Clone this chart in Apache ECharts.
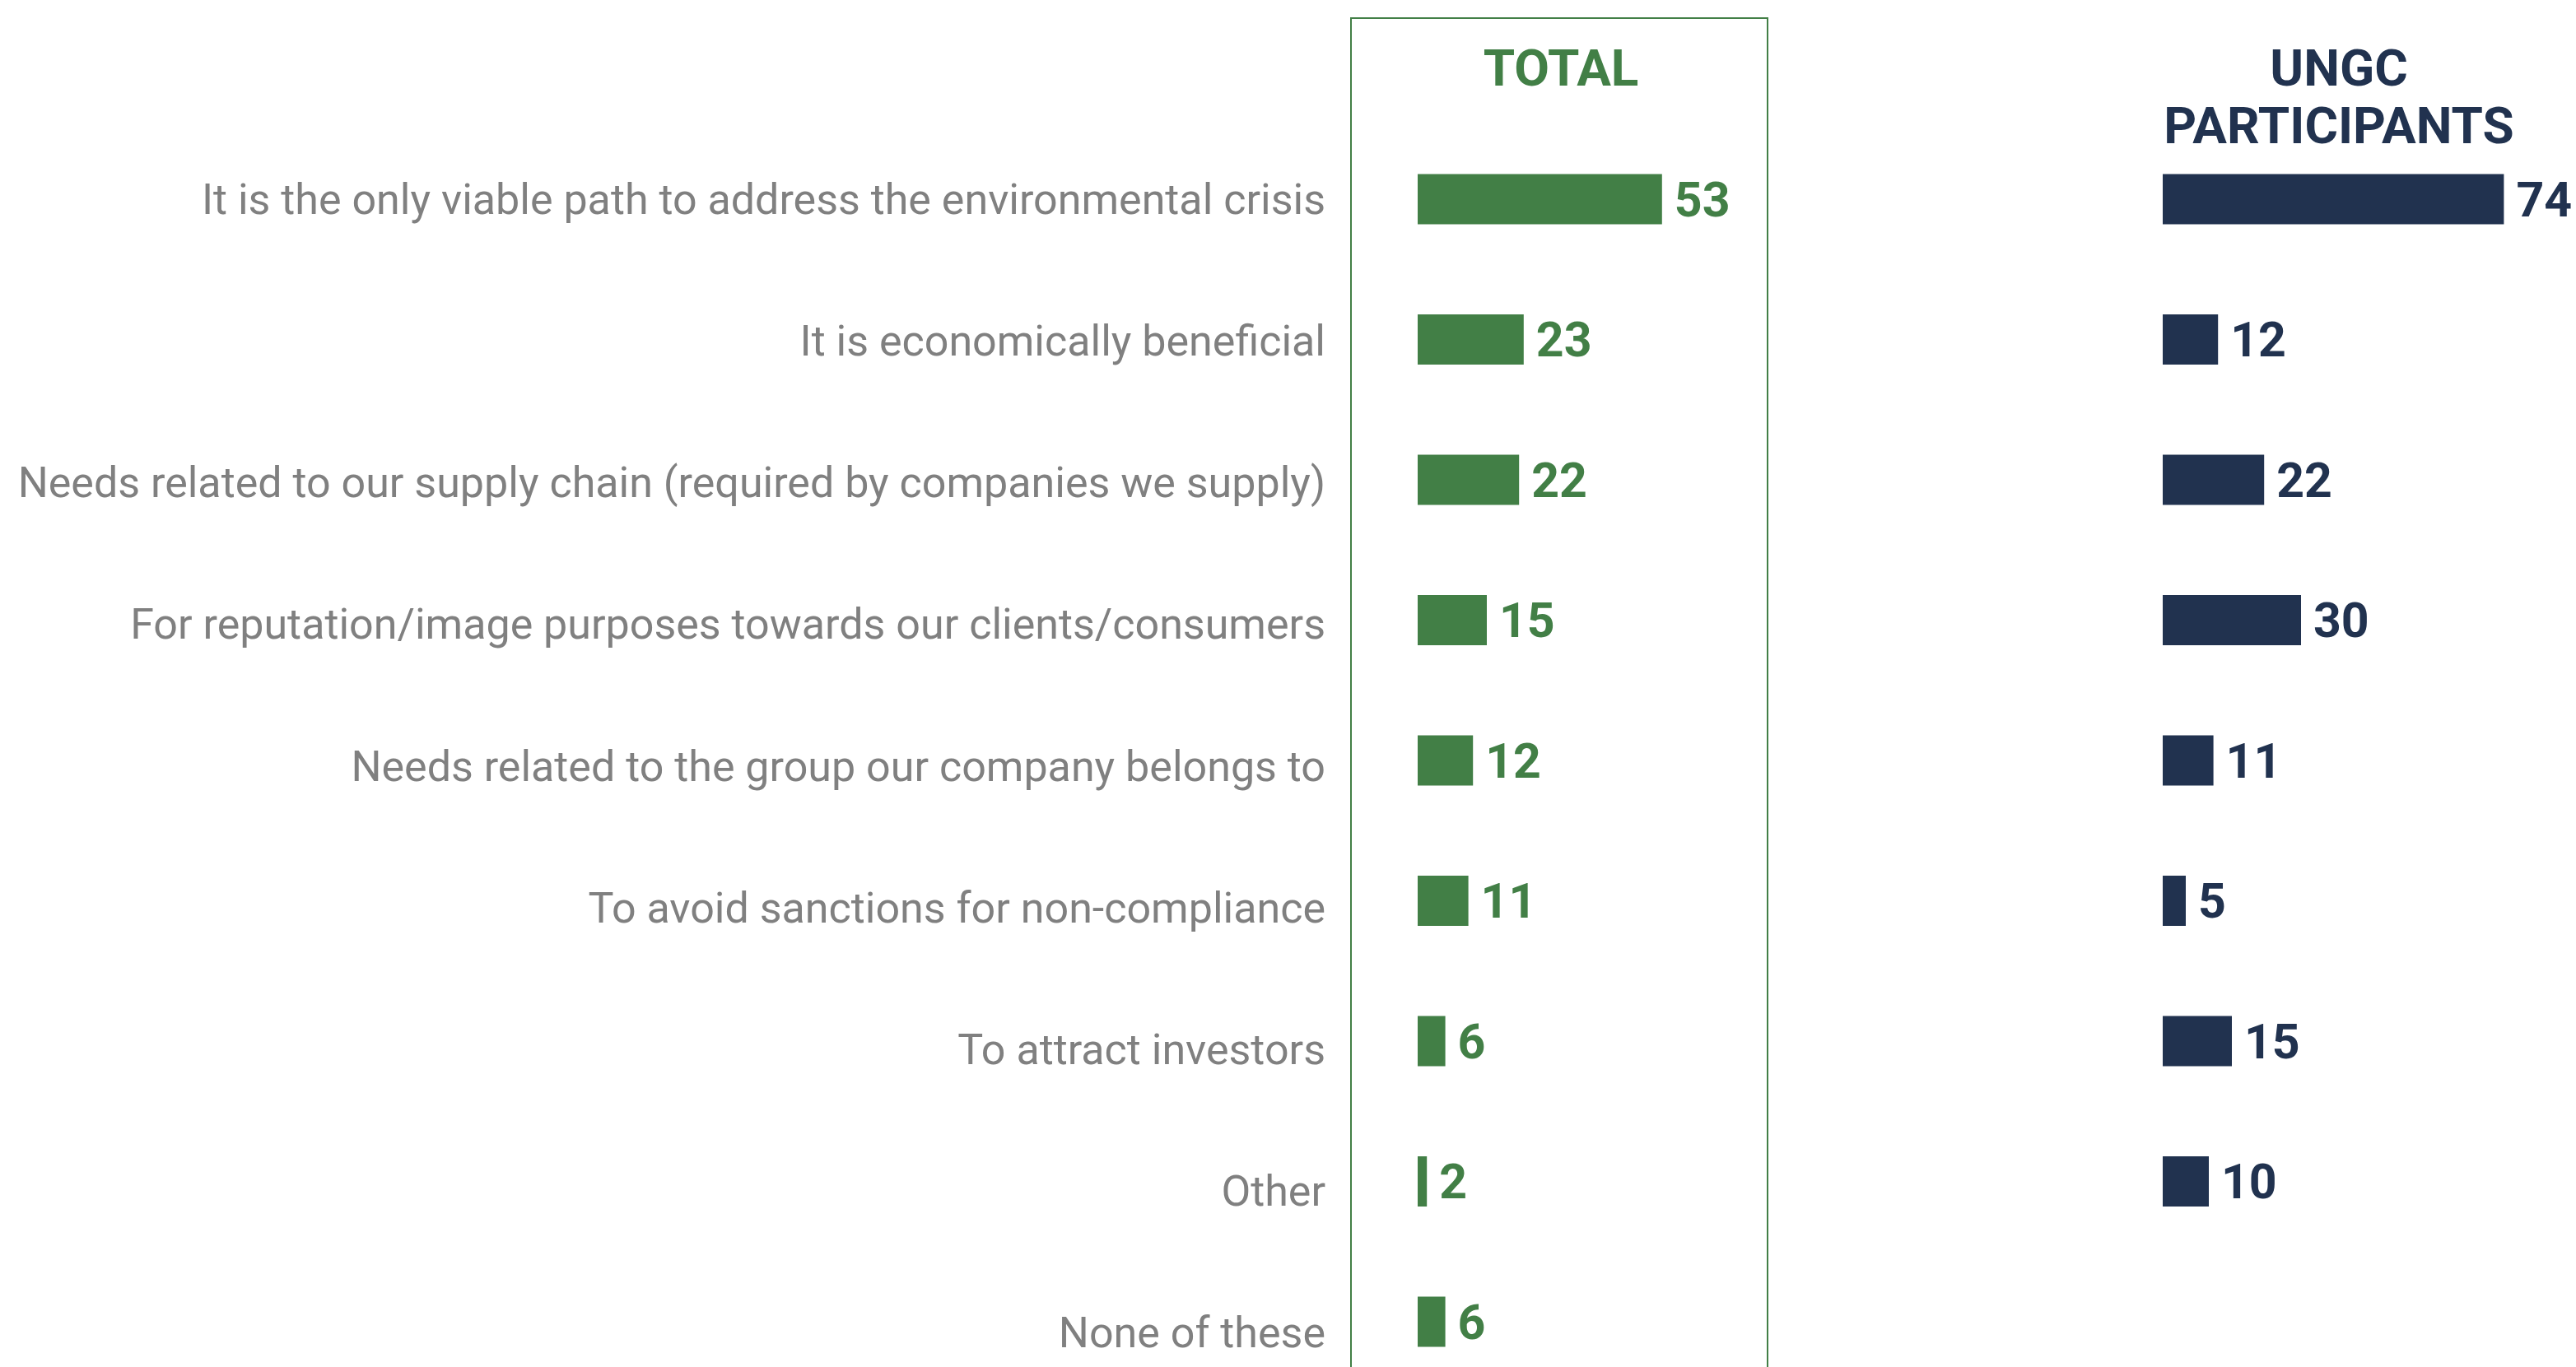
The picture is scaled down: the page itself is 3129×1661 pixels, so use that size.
<!DOCTYPE html>
<html>
<head>
<meta charset="utf-8">
<script src="https://cdn.jsdelivr.net/npm/echarts@6/dist/echarts.min.js"></script>
<style>
html,body{margin:0;padding:0;background:#fff;}
#chart{width:3129px;height:1661px;}
</style>
</head>
<body>
<div id="chart"></div>
<script>
const categories = [
  'It is the only viable path to address the environmental crisis',
  'It is economically beneficial',
  'Needs related to our supply chain (required by companies we supply)',
  'For reputation/image purposes towards our clients/consumers',
  'Needs related to the group our company belongs to',
  'To avoid sanctions for non-compliance',
  'To attract investors',
  'Other',
  'None of these'
];
const totalValues = [53, 23, 22, 15, 12, 11, 6, 2, 6];
const ungcValues = [74, 12, 22, 30, 11, 5, 15, 10, null];
const panelTitles = ['TOTAL', 'UNGC\nPARTICIPANTS'];

const GREEN = '#427F46';
const NAVY = '#21324F';
const GRAY = '#808080';

const chart = echarts.init(document.getElementById('chart'), null, {renderer: 'svg'});

const labelStyle = (color) => ({
  show: true,
  position: 'right',
  distance: 15,
  color: color,
  fontFamily: 'Roboto',
  fontWeight: 'bold',
  fontSize: 59
});

// category text drifts slightly below its bar further down the list (as in the source)
const rich = {};
categories.forEach((c, i) => {
  rich['r' + i] = {
    color: GRAY, fontFamily: 'Roboto', fontSize: 52,
    padding: [Math.round(i * 3.4), 0, 0, 0]
  };
});

const catAxis = (gi, showLabel) => ({
  gridIndex: gi, type: 'category', data: categories, inverse: true,
  boundaryGap: false,
  axisLine: {show: false}, axisTick: {show: false}, splitLine: {show: false},
  axisLabel: showLabel ? {
    margin: 112, color: GRAY, fontFamily: 'Roboto', fontSize: 52,
    formatter: (v, i) => '{r' + i + '|' + v + '}',
    rich: rich
  } : {show: false}
});

chart.setOption({
  backgroundColor: '#ffffff',
  animation: false,
  grid: [
    {left: 1722, top: 242, width: 448, height: 1364},
    {left: 2627, top: 242, width: 448, height: 1364}
  ],
  xAxis: [
    {gridIndex: 0, type: 'value', min: 0, max: 80, show: false},
    {gridIndex: 1, type: 'value', min: 0, max: 80, show: false}
  ],
  yAxis: [catAxis(0, true), catAxis(1, false)],
  series: [
    {
      name: panelTitles[0], type: 'bar', xAxisIndex: 0, yAxisIndex: 0,
      data: totalValues, barWidth: 61,
      itemStyle: {color: GREEN},
      label: labelStyle(GREEN)
    },
    {
      name: panelTitles[1], type: 'bar', xAxisIndex: 1, yAxisIndex: 1,
      data: ungcValues, barWidth: 61,
      itemStyle: {color: NAVY},
      label: labelStyle(NAVY)
    }
  ],
  graphic: [
    {
      type: 'rect', z: -1,
      shape: {x: 1641, y: 22, width: 506, height: 1700},
      style: {fill: 'none', stroke: GREEN, lineWidth: 2}
    },
    {
      type: 'text',
      style: {
        text: panelTitles[0], x: 1896, y: 82,
        align: 'center', verticalAlign: 'middle',
        fill: GREEN, fontFamily: 'Roboto', fontWeight: 'bold', fontSize: 62
      }
    },
    {
      type: 'text',
      style: {
        text: panelTitles[1], x: 2841, y: 117,
        align: 'center', verticalAlign: 'middle', lineHeight: 70,
        fill: NAVY, fontFamily: 'Roboto', fontWeight: 'bold', fontSize: 62
      }
    }
  ]
});
</script>
</body>
</html>
